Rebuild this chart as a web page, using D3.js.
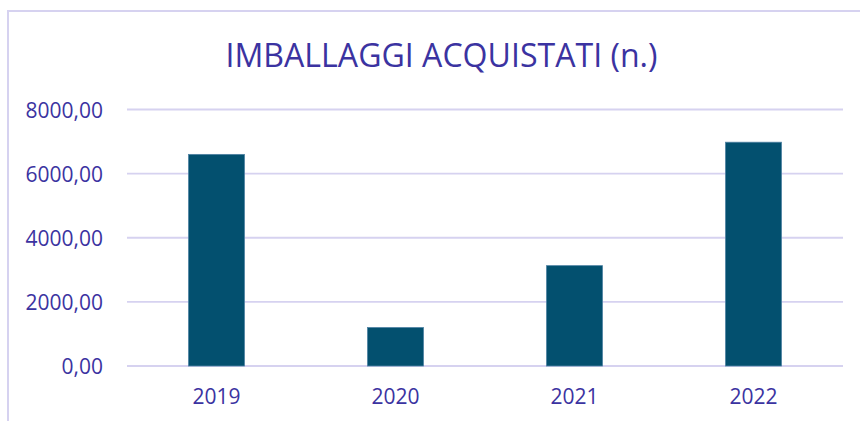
<!DOCTYPE html>
<html>
<head>
<meta charset="utf-8">
<script src="https://cdn.jsdelivr.net/npm/d3@7"></script>
<style>
  body { margin: 0; background: #fff; }
  text { font-family: "Open Sans", "Noto Sans", sans-serif; }
</style>
</head>
<body>
<svg id="chart" width="860" height="421"></svg>
<script>
// dati
var anni = ["2019", "2020", "2021", "2022"];
var imballaggi = [6600, 1200, 3130, 6980];
var yTicks = [0, 2000, 4000, 6000, 8000];
var titolo = "IMBALLAGGI ACQUISTATI (n.)";

var svg = d3.select("#chart");
var textColor = "#3b33a1";
var gridColor = "#d6d2f0";

// cornice (esce dal bordo destro e in basso)
svg.append("rect")
    .attr("x", 8).attr("y", 11)
    .attr("width", 900).attr("height", 500)
    .attr("fill", "none")
    .attr("stroke", gridColor)
    .attr("stroke-width", 2);

var x = d3.scaleBand()
    .domain(anni)
    .range([127, 843])
    .paddingInner(0.687)
    .paddingOuter(0.3435);

var y = d3.scaleLinear()
    .domain([0, 8000])
    .range([366, 109.5]);

var it = d3.formatLocale({decimal: ",", thousands: ".", grouping: [3], currency: ["", "€"]});
var fmt = it.format(".2f");

// titolo
svg.append("text")
    .attr("x", 441.5)
    .attr("y", 67)
    .attr("text-anchor", "middle")
    .attr("fill", textColor)
    .style("font-size", "32.5px")
    .attr("textLength", 432)
    .attr("lengthAdjust", "spacingAndGlyphs")
    .text(titolo);

// griglia
svg.append("g")
    .selectAll("line")
    .data(yTicks)
    .enter()
    .append("line")
    .attr("x1", 127).attr("x2", 843)
    .attr("y1", function(d){ return y(d); })
    .attr("y2", function(d){ return y(d); })
    .attr("stroke", gridColor)
    .attr("stroke-width", 1.8);

// asse y
var yAxis = svg.append("g")
    .attr("transform", "translate(103,0)")
    .call(d3.axisLeft(y).tickValues(yTicks).tickFormat(fmt).tickSize(0).tickPadding(0));
yAxis.select(".domain").remove();
yAxis.selectAll("text")
    .attr("fill", textColor)
    .style("font-size", "21px")
    .attr("dy", "0.36em");

// barre
svg.append("g")
    .selectAll("rect")
    .data(anni)
    .enter()
    .append("rect")
    .attr("x", function(d){ return x(d); })
    .attr("y", function(d, i){ return y(imballaggi[i]); })
    .attr("width", x.bandwidth())
    .attr("height", function(d, i){ return y(0) - y(imballaggi[i]); })
    .attr("fill", "#03506f")
    .attr("stroke", "#4f82a3")
    .attr("stroke-width", 0.8);

// asse x
var xAxis = svg.append("g")
    .attr("transform", "translate(0,366)")
    .call(d3.axisBottom(x).tickSize(0).tickPadding(0));
xAxis.select(".domain").remove();
xAxis.selectAll("text")
    .attr("fill", textColor)
    .style("font-size", "21px")
    .attr("dy", "0")
    .attr("y", 38);
</script>
</body>
</html>
